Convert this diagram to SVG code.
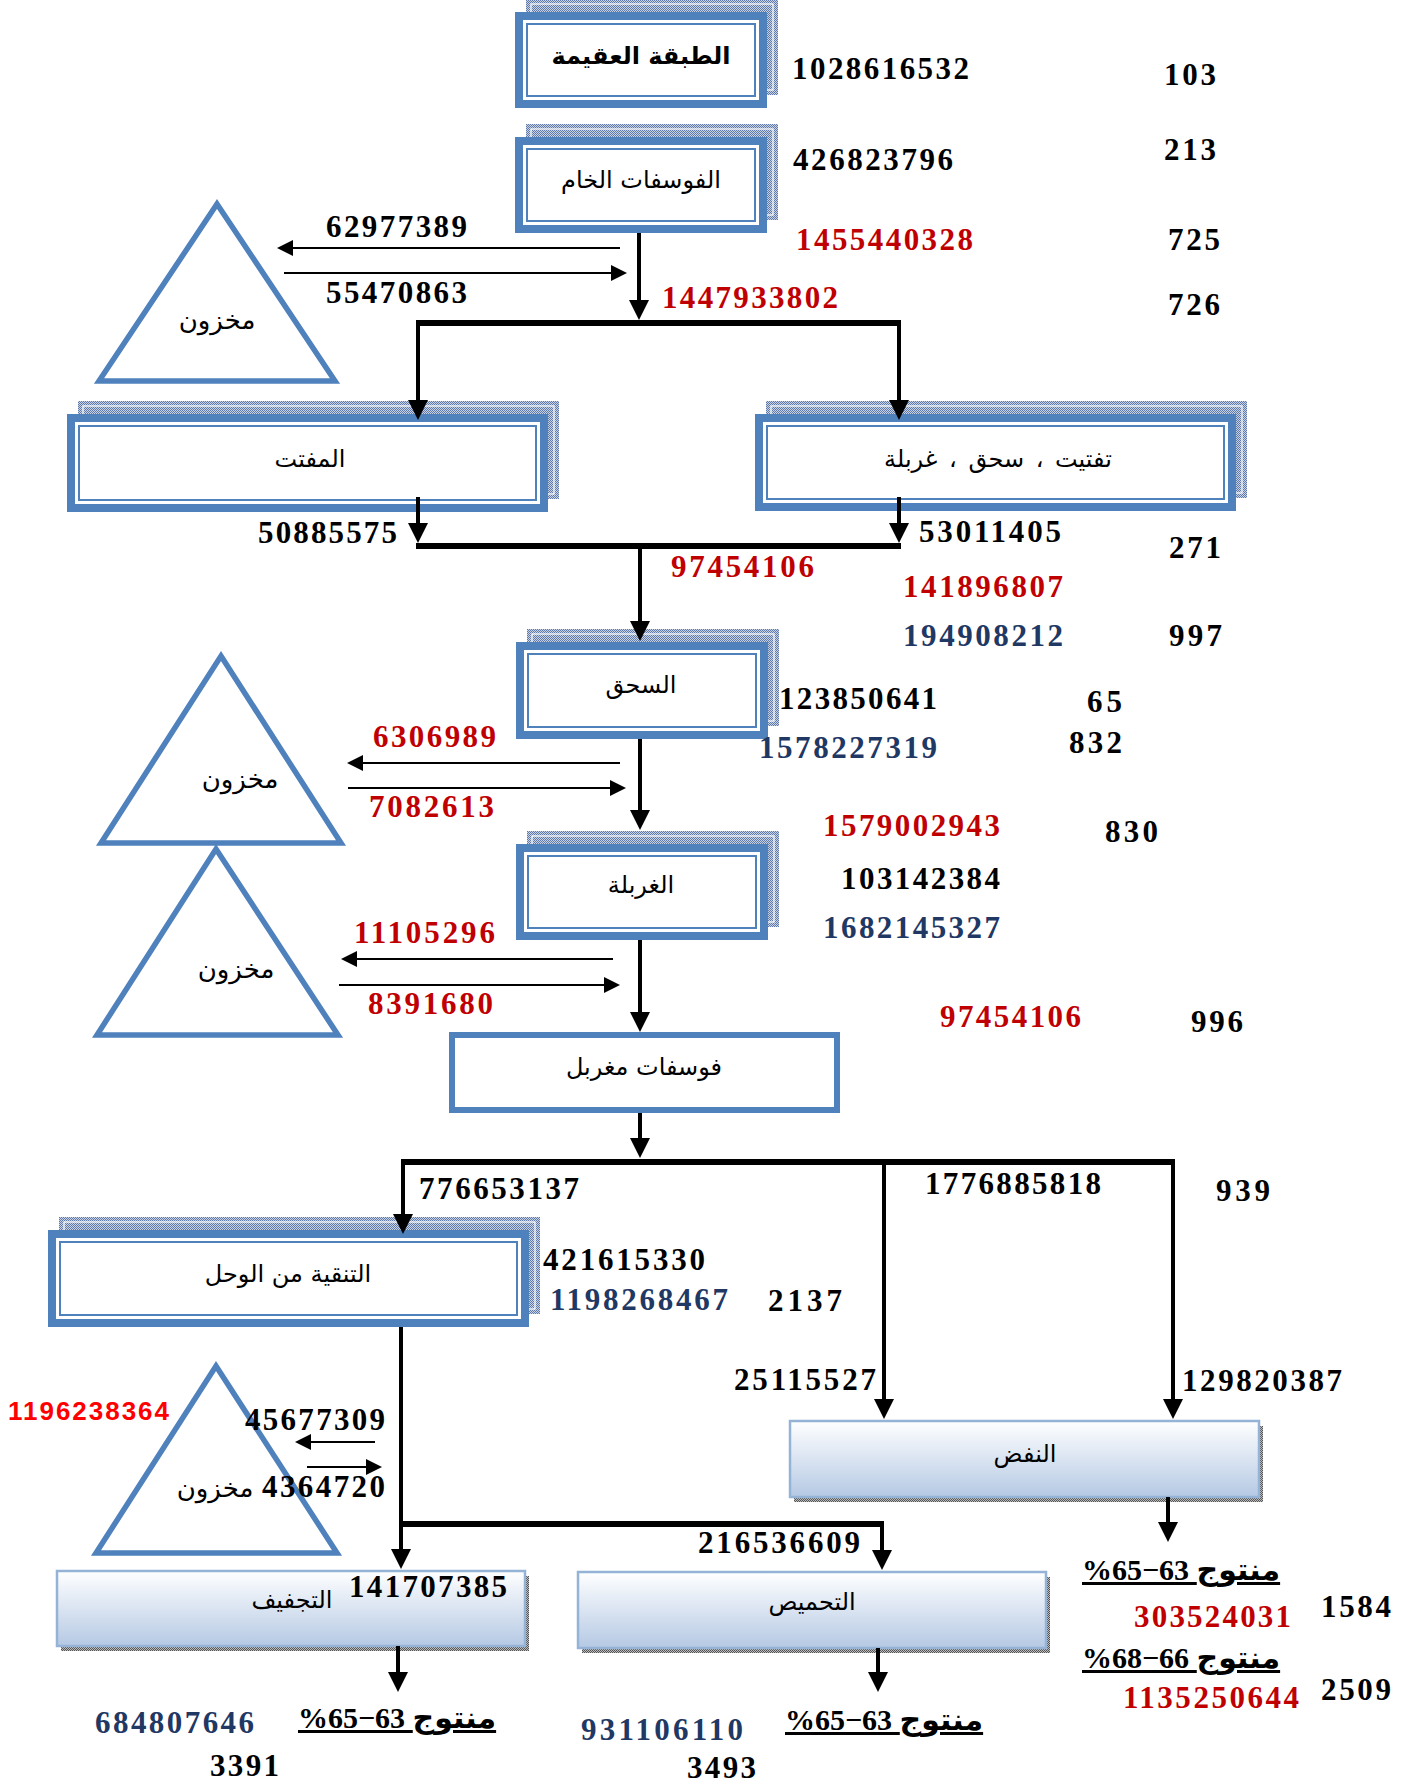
<svg xmlns="http://www.w3.org/2000/svg" width="1410" height="1783" viewBox="0 0 1410 1783">
<defs>
<style>
.num{font-family:'Liberation Serif','Times New Roman',serif;font-weight:bold;font-size:31px;fill:#000}
.red{fill:#c00000}
.blue{fill:#1f3864}
.bred{font-family:'Liberation Sans',Arial,sans-serif;font-weight:bold;font-size:26px;fill:#ff0000}
.ar{font-family:'DejaVu Sans',sans-serif;font-size:24px;text-anchor:middle;fill:#000}
.st{font-size:26px}
.arb{font-weight:bold}
.prod{font-family:'Liberation Serif','DejaVu Sans',serif;font-weight:bold;font-size:30px;fill:#000;text-decoration:underline}
.conn{stroke:#000;fill:none;stroke-width:4}
.bar{stroke:#000;fill:none;stroke-width:6}
.side{stroke:#000;fill:none;stroke-width:2}
.tri{fill:#fff;stroke:#4f81bd;stroke-width:5.5}
.band{fill:#4f81bd}
.inner{fill:#fff}
.thin{fill:none;stroke:#4f81bd;stroke-width:2}
.shd{fill:url(#hatchB)}
.shdline{fill:none;stroke:#fff;stroke-width:1.2}
.gbox{fill:url(#grad);stroke:#95b3d7;stroke-width:2.5}
.gshd{fill:url(#hatchG)}
</style>
<pattern id="hatchB" width="2" height="2" patternUnits="userSpaceOnUse">
<rect width="2" height="2" fill="#c9d3e6"/><rect width="1" height="1" fill="#5f79ab"/><rect x="1" y="1" width="1" height="1" fill="#5f79ab"/>
</pattern>
<pattern id="hatchG" width="2" height="2" patternUnits="userSpaceOnUse">
<rect width="2" height="2" fill="#bbbbbb"/><rect width="1" height="1" fill="#555"/><rect x="1" y="1" width="1" height="1" fill="#555"/>
</pattern>
<linearGradient id="grad" x1="0" y1="0" x2="0" y2="1">
<stop offset="0" stop-color="#ffffff"/><stop offset="1" stop-color="#b5c9e4"/>
</linearGradient>
<marker id="ah" markerUnits="userSpaceOnUse" markerWidth="20" markerHeight="20" refX="14" refY="10" orient="auto">
<path d="M0,0 L20,10 L0,20 z" fill="#000"/>
</marker>
<marker id="ahs" markerUnits="userSpaceOnUse" markerWidth="16" markerHeight="16" refX="12" refY="8" orient="auto">
<path d="M0,0 L16,8 L0,16 z" fill="#000"/>
</marker>
</defs>
<rect width="1410" height="1783" fill="#fff"/>

<!-- storage triangles -->
<g id="store1"><polygon class="tri" points="217,204 335,381 99,381"/><text class="ar st" x="217" y="329">مخزون</text></g>
<g id="store2"><polygon class="tri" points="221,656 341,843 101,843"/><text class="ar st" x="240" y="788">مخزون</text></g>
<g id="store3"><polygon class="tri" points="216,849 338,1035 97,1035"/><text class="ar st" x="236" y="978">مخزون</text></g>
<g id="store4"><polygon class="tri" points="216,1366 337,1553 96,1553"/><text class="ar st" x="215" y="1497">مخزون</text></g>

<!-- double-bordered boxes -->
<g id="n-taba">
<rect class="shd" x="526" y="-1" width="252" height="96"/><rect class="shdline" x="531" y="4" width="242" height="86"/>
<rect class="band" x="515" y="12" width="252" height="96"/><rect class="inner" x="523" y="20" width="236" height="80"/><rect class="thin" x="527" y="24" width="228" height="72"/>
<text class="ar arb" x="641" y="64" font-size="23">الطبقة العقيمة</text>
</g>
<g id="n-raw">
<rect class="shd" x="526" y="124" width="252" height="96"/><rect class="shdline" x="531" y="129" width="242" height="86"/>
<rect class="band" x="515" y="137" width="252" height="96"/><rect class="inner" x="523" y="145" width="236" height="80"/><rect class="thin" x="527" y="149" width="228" height="72"/>
<text class="ar" x="641" y="188">الفوسفات الخام</text>
</g>
<g id="n-crusher">
<rect class="shd" x="78" y="401" width="481" height="98"/><rect class="shdline" x="83" y="406" width="471" height="88"/>
<rect class="band" x="67" y="414" width="481" height="98"/><rect class="inner" x="75" y="422" width="465" height="82"/><rect class="thin" x="79" y="426" width="457" height="74"/>
<text class="ar" x="310" y="467">المفتت</text>
</g>
<g id="n-crush-sieve">
<rect class="shd" x="766" y="401" width="481" height="97"/><rect class="shdline" x="771" y="406" width="471" height="87"/>
<rect class="band" x="755" y="414" width="481" height="97"/><rect class="inner" x="763" y="422" width="465" height="81"/><rect class="thin" x="767" y="426" width="457" height="73"/>
<text class="ar" x="998" y="467" word-spacing="4">تفتيت ، سحق ، غربلة</text>
</g>
<g id="n-grind">
<rect class="shd" x="527" y="629" width="252" height="97"/><rect class="shdline" x="532" y="634" width="242" height="87"/>
<rect class="band" x="516" y="642" width="252" height="97"/><rect class="inner" x="524" y="650" width="236" height="81"/><rect class="thin" x="528" y="654" width="228" height="73"/>
<text class="ar" x="641" y="693">السحق</text>
</g>
<g id="n-sieve">
<rect class="shd" x="527" y="831" width="252" height="96"/><rect class="shdline" x="532" y="836" width="242" height="86"/>
<rect class="band" x="516" y="844" width="252" height="96"/><rect class="inner" x="524" y="852" width="236" height="80"/><rect class="thin" x="528" y="856" width="228" height="72"/>
<text class="ar" x="641" y="893">الغربلة</text>
</g>
<g id="n-sieved">
<rect x="452" y="1035" width="385" height="75" fill="#fff" stroke="#4f81bd" stroke-width="6"/>
<text class="ar" x="644" y="1075">فوسفات مغربل</text>
</g>
<g id="n-mud">
<rect class="shd" x="59" y="1217" width="481" height="97"/><rect class="shdline" x="64" y="1222" width="471" height="87"/>
<rect class="band" x="48" y="1230" width="481" height="97"/><rect class="inner" x="56" y="1238" width="465" height="81"/><rect class="thin" x="60" y="1242" width="457" height="73"/>
<text class="ar" x="288" y="1282">التنقية من الوحل</text>
</g>

<!-- gradient boxes -->
<g id="n-flot">
<rect class="gshd" x="794" y="1426" width="469" height="76"/>
<rect class="gbox" x="790" y="1421" width="469" height="76"/>
<text class="ar" x="1025" y="1462">النفض</text>
</g>
<g id="n-dry">
<rect class="gshd" x="61" y="1576" width="468" height="75"/>
<rect class="gbox" x="57" y="1571" width="468" height="75"/>
<text class="ar" x="292" y="1608">التجفيف</text>
</g>
<g id="n-calc">
<rect class="gshd" x="582" y="1577" width="468" height="76"/>
<rect class="gbox" x="578" y="1572" width="468" height="76"/>
<text class="ar" x="812" y="1610">التحميص</text>
</g>

<!-- connectors -->
<g id="connectors">
<path class="conn" d="M639,233 V314" marker-end="url(#ah)"/>
<path class="bar" d="M416,323 H901"/>
<path class="conn" d="M418,323 V414" marker-end="url(#ah)"/>
<path class="conn" d="M899,323 V414" marker-end="url(#ah)"/>
<path class="conn" d="M418,497 V537" marker-end="url(#ah)"/>
<path class="conn" d="M899,497 V537" marker-end="url(#ah)"/>
<path class="bar" d="M416,546 H901"/>
<path class="conn" d="M640,546 V635" marker-end="url(#ah)"/>
<path class="conn" d="M640,739 V824" marker-end="url(#ah)"/>
<path class="conn" d="M640,940 V1026" marker-end="url(#ah)"/>
<path class="conn" d="M640,1113 V1152" marker-end="url(#ah)"/>
<path class="bar" d="M401,1162 H1175"/>
<path class="conn" d="M403,1162 V1228" marker-end="url(#ah)"/>
<path class="conn" d="M884,1162 V1413" marker-end="url(#ah)"/>
<path class="conn" d="M1173,1162 V1413" marker-end="url(#ah)"/>
<path class="conn" d="M401,1327 V1563" marker-end="url(#ah)"/>
<path class="bar" d="M399,1524 H884"/>
<path class="conn" d="M882,1524 V1564" marker-end="url(#ah)"/>
<path class="conn" d="M398,1646 V1686" marker-end="url(#ah)"/>
<path class="conn" d="M878,1648 V1686" marker-end="url(#ah)"/>
<path class="conn" d="M1168,1497 V1536" marker-end="url(#ah)"/>
<path class="side" d="M620,248 H281" marker-end="url(#ahs)"/>
<path class="side" d="M284,273 H623" marker-end="url(#ahs)"/>
<path class="side" d="M620,763 H351" marker-end="url(#ahs)"/>
<path class="side" d="M348,788 H622" marker-end="url(#ahs)"/>
<path class="side" d="M613,959 H345" marker-end="url(#ahs)"/>
<path class="side" d="M339,985 H616" marker-end="url(#ahs)"/>
<path class="side" stroke-width="1.5" d="M375,1442 H299" marker-end="url(#ahs)"/>
<path class="side" stroke-width="1.5" d="M307,1467 H378" marker-end="url(#ahs)"/>
</g>

<!-- quantities -->
<g id="labels">
<text class="num" x="792" y="79" textLength="177" lengthAdjust="spacing">1028616532</text>
<text class="num" x="1164" y="85" textLength="52" lengthAdjust="spacing">103</text>
<text class="num" x="793" y="170" textLength="160" lengthAdjust="spacing">426823796</text>
<text class="num" x="1164" y="160" textLength="52" lengthAdjust="spacing">213</text>
<text class="num" x="326" y="237" textLength="141" lengthAdjust="spacing">62977389</text>
<text class="num red" x="796" y="250" textLength="177" lengthAdjust="spacing">1455440328</text>
<text class="num" x="1168" y="250" textLength="52" lengthAdjust="spacing">725</text>
<text class="num" x="326" y="303" textLength="141" lengthAdjust="spacing">55470863</text>
<text class="num red" x="662" y="308" textLength="176" lengthAdjust="spacing">1447933802</text>
<text class="num" x="1168" y="315" textLength="52" lengthAdjust="spacing">726</text>
<text class="num" x="258" y="543" textLength="139" lengthAdjust="spacing">50885575</text>
<text class="num" x="919" y="542" textLength="142" lengthAdjust="spacing">53011405</text>
<text class="num red" x="671" y="577" textLength="143" lengthAdjust="spacing">97454106</text>
<text class="num red" x="903" y="597" textLength="160" lengthAdjust="spacing">141896807</text>
<text class="num blue" x="903" y="646" textLength="160" lengthAdjust="spacing">194908212</text>
<text class="num" x="1169" y="558" textLength="52" lengthAdjust="spacing">271</text>
<text class="num" x="1169" y="646" textLength="53" lengthAdjust="spacing">997</text>
<text class="num" x="779" y="709" textLength="158" lengthAdjust="spacing">123850641</text>
<text class="num" x="1087" y="712" textLength="35" lengthAdjust="spacing">65</text>
<text class="num blue" x="759" y="758" textLength="178" lengthAdjust="spacing">1578227319</text>
<text class="num" x="1069" y="753" textLength="53" lengthAdjust="spacing">832</text>
<text class="num red" x="373" y="747" textLength="123" lengthAdjust="spacing">6306989</text>
<text class="num red" x="369" y="817" textLength="125" lengthAdjust="spacing">7082613</text>
<text class="num red" x="823" y="836" textLength="177" lengthAdjust="spacing">1579002943</text>
<text class="num" x="1105" y="842" textLength="53" lengthAdjust="spacing">830</text>
<text class="num" x="841" y="889" textLength="159" lengthAdjust="spacing">103142384</text>
<text class="num blue" x="823" y="938" textLength="177" lengthAdjust="spacing">1682145327</text>
<text class="num red" x="354" y="943" textLength="141" lengthAdjust="spacing">11105296</text>
<text class="num red" x="368" y="1014" textLength="125" lengthAdjust="spacing">8391680</text>
<text class="num red" x="940" y="1027" textLength="141" lengthAdjust="spacing">97454106</text>
<text class="num" x="1191" y="1032" textLength="52" lengthAdjust="spacing">996</text>
<text class="num" x="419" y="1199" textLength="160" lengthAdjust="spacing">776653137</text>
<text class="num" x="925" y="1194" textLength="176" lengthAdjust="spacing">1776885818</text>
<text class="num" x="1216" y="1201" textLength="54" lengthAdjust="spacing">939</text>
<text class="num" x="543" y="1270" textLength="162" lengthAdjust="spacing">421615330</text>
<text class="num blue" x="550" y="1310" textLength="178" lengthAdjust="spacing">1198268467</text>
<text class="num" x="768" y="1311" textLength="74" lengthAdjust="spacing">2137</text>
<text class="num" x="734" y="1390" textLength="142" lengthAdjust="spacing">25115527</text>
<text class="num" x="1182" y="1391" textLength="160" lengthAdjust="spacing">129820387</text>
<text class="bred" x="8" y="1420" textLength="161" lengthAdjust="spacing">1196238364</text>
<text class="num" x="245" y="1430" textLength="140" lengthAdjust="spacing">45677309</text>
<text class="num" x="262" y="1497" textLength="123" lengthAdjust="spacing">4364720</text>
<text class="num" x="698" y="1553" textLength="162" lengthAdjust="spacing">216536609</text>
<text class="num" x="349" y="1597" textLength="158" lengthAdjust="spacing">141707385</text>
<text class="num blue" x="95" y="1733" textLength="159" lengthAdjust="spacing">684807646</text>
<text class="num" x="210" y="1776" textLength="69" lengthAdjust="spacing">3391</text>
<text class="num blue" x="581" y="1740" textLength="162" lengthAdjust="spacing">931106110</text>
<text class="num" x="687" y="1778" textLength="69" lengthAdjust="spacing">3493</text>
<text class="num red" x="1134" y="1627" textLength="157" lengthAdjust="spacing">303524031</text>
<text class="num" x="1321" y="1617" textLength="70" lengthAdjust="spacing">1584</text>
<text class="num red" x="1123" y="1708" textLength="176" lengthAdjust="spacing">1135250644</text>
<text class="num" x="1321" y="1700" textLength="70" lengthAdjust="spacing">2509</text>
<text class="prod" x="298" y="1728" direction="ltr">%65−63 منتوج</text>
<text class="prod" x="785" y="1730" direction="ltr">%65−63 منتوج</text>
<text class="prod" x="1082" y="1580" direction="ltr">%65−63 منتوج</text>
<text class="prod" x="1082" y="1668" direction="ltr">%68−66 منتوج</text>
</g>
</svg>
